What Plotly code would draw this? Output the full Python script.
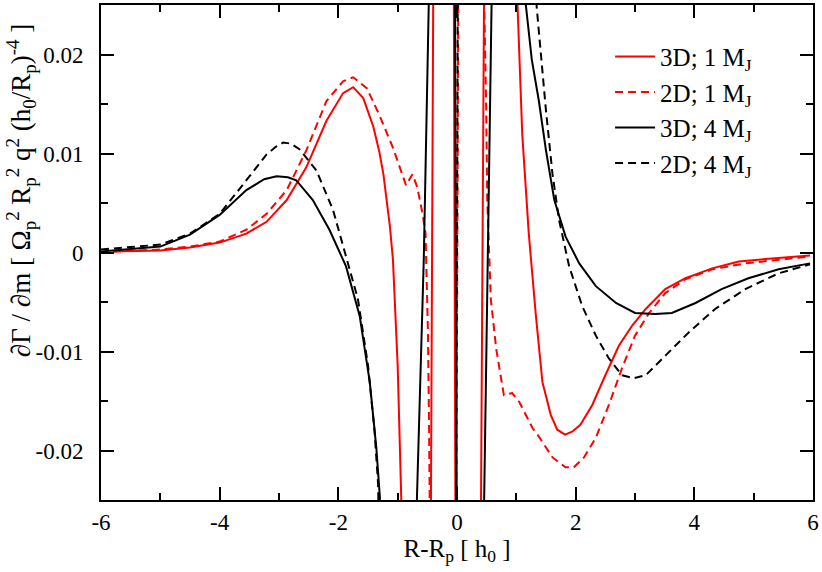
import plotly.graph_objects as go

# 3D; 1 MJ (solid red)
x_3d1 = [-5.8, -5, -4.5, -4, -3.55, -3.21, -2.87, -2.54, -2.20, -1.92, -1.75, -1.58, -1.41, -1.31, -1.24,
         -1.13, -1.08, -1.0, -0.94, -0.90, -0.45, -0.39, -0.06, -0.02, 0.39, 0.47, 0.99, 1.02, 1.10, 1.21,
         1.33, 1.44, 1.58, 1.69, 1.82, 1.94, 2.08, 2.28, 2.50, 2.73, 2.95, 3.18, 3.51, 3.85, 4.30, 4.75,
         5.31, 5.95]
y_3d1 = [0.0001, 0.0002, 0.0005, 0.0010, 0.0019, 0.0031, 0.0053, 0.0086, 0.0133, 0.0161, 0.0167, 0.0156,
         0.0127, 0.0102, 0.0079, 0.0026, -0.0007, -0.0114, -0.0247, -0.04, -0.04, 0.04, 0.04, -0.04, -0.04,
         0.04, 0.05, 0.025, 0.0119, 0.0019, -0.0064, -0.0131, -0.0164, -0.0179, -0.0184, -0.0181, -0.0174,
         -0.0154, -0.0124, -0.0094, -0.0074, -0.0057, -0.0037, -0.0026, -0.0016, -0.0009, -0.0006, -0.0003]

# 2D; 1 MJ (dashed red)
x_2d1 = [-5.8, -5, -4.5, -4, -3.55, -3.21, -2.87, -2.54, -2.20, -1.92, -1.75, -1.52, -1.31, -1.08, -0.86,
         -0.75, -0.67, -0.58, -0.53, -0.49, -0.47, -0.44, -0.02, 0.03, 0.44, 0.46, 0.49, 0.51, 0.57, 0.66,
         0.79, 0.93, 1.05, 1.27, 1.38, 1.50, 1.61, 1.83, 1.97, 2.14, 2.34, 2.56, 2.78, 3.0, 3.24, 3.51,
         3.85, 4.30, 4.86, 5.95]
y_2d1 = [0.0001, 0.0003, 0.0006, 0.0011, 0.0023, 0.0039, 0.0063, 0.0103, 0.0153, 0.0173, 0.0177, 0.0166,
         0.0139, 0.0106, 0.0068, 0.0079, 0.0066, 0.0039, 0.0019, -0.008, -0.018, -0.04, -0.04, 0.04, 0.045,
         0.025, 0.0153, 0.0053, -0.0047, -0.0097, -0.0144, -0.0142, -0.0151, -0.0177, -0.0186, -0.0197,
         -0.0207, -0.0217, -0.0217, -0.0207, -0.0187, -0.0154, -0.0117, -0.0084, -0.0061, -0.0041, -0.0027,
         -0.0017, -0.0011, -0.0004]

# 3D; 4 MJ (solid black)
x_3d4 = [-6, -5, -4.5, -4, -3.55, -3.25, -3.04, -2.85, -2.71, -2.43, -2.15, -1.87, -1.64, -1.47, -1.36,
         -1.30, -1.25, -0.70, -0.56, -0.46, -0.04, 0.0, 0.42, 0.62, 1.10, 1.16, 1.26, 1.38, 1.50, 1.64,
         1.83, 2.06, 2.34, 2.68, 3.0, 3.34, 3.62, 4.02, 4.46, 4.91, 5.42, 5.95]
y_3d4 = [0.0001, 0.0006, 0.0018, 0.0038, 0.0063, 0.0074, 0.0077, 0.0076, 0.0073, 0.0053, 0.0023, -0.0014,
         -0.0064, -0.0131, -0.0197, -0.0247, -0.04, -0.03, -0.0007, 0.03, 0.04, -0.04, -0.04, 0.04, 0.05,
         0.025, 0.0195, 0.0153, 0.0103, 0.0053, 0.0016, -0.0011, -0.0034, -0.0051, -0.0061, -0.0062,
         -0.0061, -0.0051, -0.0037, -0.0026, -0.0017, -0.0011]

# 2D; 4 MJ (dashed black)
x_2d4 = [-6, -5, -4.5, -4, -3.55, -3.21, -3.05, -2.93, -2.80, -2.65, -2.37, -2.09, -1.87, -1.67, -1.50,
         -1.39, -1.33, -1.28, -0.02, 0.02, 1.30, 1.34, 1.38, 1.50, 1.61, 1.72, 1.89, 2.11, 2.34, 2.56, 2.78,
         2.98, 3.18, 3.51, 3.90, 4.35, 4.86, 5.42, 5.95]
y_2d4 = [0.0003, 0.0008, 0.0019, 0.0039, 0.0073, 0.0099, 0.0107, 0.0111, 0.0110, 0.0104, 0.0083, 0.0043,
         -0.0004, -0.0047, -0.0114, -0.018, -0.0234, -0.04, -0.04, 0.04, 0.05, 0.025, 0.0223, 0.0143,
         0.0079, 0.0033, -0.0014, -0.0054, -0.0084, -0.0107, -0.0124, -0.0127, -0.0124, -0.0104, -0.0081,
         -0.0057, -0.0037, -0.0021, -0.0012]

x_ticks = [-6, -4, -2, 0, 2, 4, 6]
x_labels = ["-6", "-4", "-2", "0", "2", "4", "6"]
y_ticks = [-0.02, -0.01, 0, 0.01, 0.02]
y_labels = ["-0.02", "-0.01", "0", "0.01", "0.02"]

FONT = "Liberation Serif, Times New Roman, serif"
DASH = "8px,5px"

fig = go.Figure()
fig.add_trace(go.Scatter(x=x_3d1, y=y_3d1, mode="lines", name="3D; 1 M<sub>J</sub>",
                         line=dict(color="#ff0000", width=2)))
fig.add_trace(go.Scatter(x=x_2d1, y=y_2d1, mode="lines", name="2D; 1 M<sub>J</sub>",
                         line=dict(color="#ff0000", width=2, dash=DASH)))
fig.add_trace(go.Scatter(x=x_3d4, y=y_3d4, mode="lines", name="3D; 4 M<sub>J</sub>",
                         line=dict(color="#000000", width=2)))
fig.add_trace(go.Scatter(x=x_2d4, y=y_2d4, mode="lines", name="2D; 4 M<sub>J</sub>",
                         line=dict(color="#000000", width=2, dash=DASH)))

axis_style = dict(showgrid=False, zeroline=False, showline=True, linecolor="black", linewidth=2,
                  mirror="allticks", ticks="inside", ticklen=13, tickwidth=2, tickcolor="black",
                  tickfont=dict(family=FONT, size=23, color="black"))

fig.update_xaxes(range=[-6, 6], tickvals=x_ticks, ticktext=x_labels,
                 minor=dict(ticks="inside", ticklen=7, tickwidth=2, tickcolor="black", dtick=1, tick0=0,
                            showgrid=False),
                 title=dict(text="R-R<sub>p</sub> [ h<sub>0</sub> ]", font=dict(family=FONT, size=25, color="black"),
                            standoff=0),
                 **axis_style)
fig.update_yaxes(range=[-0.025, 0.025], tickvals=y_ticks, ticktext=y_labels, ticklabelstandoff=11,
                 minor=dict(ticks="inside", ticklen=7, tickwidth=2, tickcolor="black", dtick=0.005, tick0=0,
                            showgrid=False),
                 **axis_style)

fig.add_annotation(text="∂Γ / ∂m [ Ω<sub>p</sub><sup>2</sup> R<sub>p</sub><sup>2</sup> q<sup>2</sup> "
                        "(h<sub>0</sub>/R<sub>p</sub>)<sup>-4</sup> ]",
                   textangle=-90, xref="paper", yref="paper", x=-0.113, y=0.625,
                   xanchor="center", yanchor="middle", showarrow=False,
                   font=dict(family=FONT, size=27, color="black"))

fig.update_layout(width=822, height=572, margin=dict(l=101, r=7, t=3, b=72),
                  plot_bgcolor="white", paper_bgcolor="white",
                  font=dict(family=FONT, size=23, color="black"),
                  legend=dict(x=0.715, y=0.942, xanchor="left", yanchor="top", bgcolor="rgba(0,0,0,0)",
                              font=dict(family=FONT, size=25), tracegroupgap=0, itemwidth=40))

# drop the default page margin so the figure sits at the window's top-left corner
fig.write_html("out.html", config={"displayModeBar": False},
               post_script="document.body.style.margin='0px';")
